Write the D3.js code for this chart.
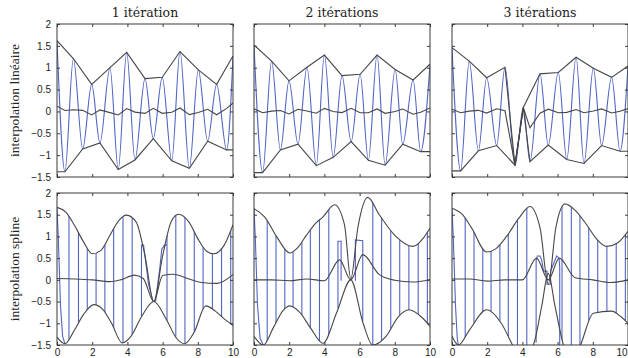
<!DOCTYPE html>
<html><head><meta charset="utf-8">
<script src="https://cdn.jsdelivr.net/npm/d3@7"></script>
<style>body{margin:0;background:#fff}svg{display:block}</style>
</head><body>
<svg id="c" width="628" height="358"></svg>
<script>
// ---------- labels ----------
const titles = ["1 itération", "2 itérations", "3 itérations"];
const rowLabels = ["interpolation linéaire", "interpolation spline"];
const xTicks = [0, 2, 4, 6, 8, 10];
const xTickLabels = ["0", "2", "4", "6", "8", "10"];
const yTicks = [-1.5, -1, -0.5, 0, 0.5, 1, 1.5, 2];
const yTickLabels = ["\u22121.5", "\u22121", "\u22120.5", "0", "0.5", "1", "1.5", "2"];

// ---------- row 1 : linear interpolation ----------
// iteration 1
const lin1UpX = [0, 0.93, 1.97, 3.01, 3.96, 5.0, 5.98, 6.99, 8.03, 9.07, 10];
const lin1UpY = [1.62, 1.21, 0.62, 1.0, 1.35, 0.75, 0.78, 1.37, 0.95, 0.62, 1.27];
const lin1LoX = [0, 0.45, 1.46, 2.44, 3.48, 4.43, 5.47, 6.52, 7.52, 8.56, 9.64, 10];
const lin1LoY = [-1.38, -1.38, -0.86, -0.72, -1.33, -1.11, -0.62, -1.13, -1.30, -0.68, -0.88, -0.88];
const lin1MeanX = [0, 0.45, 0.93, 1.46, 1.97, 2.44, 3.01, 3.48, 3.96, 4.43, 5.0, 5.47, 5.98, 6.52, 6.99, 7.52, 8.03, 8.56, 9.07, 9.64, 10];
const lin1MeanY = [0.12, 0.02, 0.04, 0.025, -0.08, 0.035, -0.027, -0.08, 0.066, -0.016, -0.045, 0.072, -0.044, -0.017, 0.08, -0.072, -0.023, 0.05, -0.077, 0.07, 0.195];
const lin1SigX = [0, 0.45, 0.93, 1.46, 1.97, 2.44, 3.01, 3.48, 3.96, 4.43, 5.0, 5.47, 5.98, 6.52, 6.99, 7.52, 8.03, 8.56, 9.07, 9.64, 10];
const lin1SigY = [1.62, -1.38, 1.21, -0.86, 0.62, -0.72, 1.0, -1.33, 1.35, -1.11, 0.75, -0.62, 0.78, -1.13, 1.37, -1.30, 0.95, -0.68, 0.62, -0.88, 1.27];

// iteration 2
const lin2UpX = [0, 1.0, 1.99, 3.01, 4.0, 5.0, 6.03, 6.99, 8.02, 9.04, 10];
const lin2UpY = [1.52, 1.15, 0.70, 1.01, 1.29, 0.82, 0.85, 1.29, 0.96, 0.72, 1.08];
const lin2LoX = [0, 0.49, 1.5, 2.5, 3.54, 4.5, 5.52, 6.5, 7.45, 8.45, 9.47, 10];
const lin2LoY = [-1.40, -1.40, -0.88, -0.75, -1.24, -1.05, -0.69, -1.12, -1.23, -0.75, -0.92, -0.92];
const lin2MeanX = [0, 0.49, 1.0, 1.5, 1.99, 2.5, 3.01, 3.54, 4.0, 4.5, 5.0, 5.52, 6.03, 6.5, 6.99, 7.45, 8.02, 8.45, 9.04, 9.47, 10];
const lin2MeanY = [0.06, -0.03, 0.007, 0.02, -0.058, 0.05, 0.01, -0.04, 0.07, 0.0, -0.027, 0.07, -0.03, -0.03, 0.056, -0.044, 0.0, 0.055, -0.064, -0.02, 0.08];
const lin2SigX = [0, 0.49, 1.0, 1.5, 1.99, 2.5, 3.01, 3.54, 4.0, 4.5, 5.0, 5.52, 6.03, 6.5, 6.99, 7.45, 8.02, 8.45, 9.04, 9.47, 10];
const lin2SigY = [1.52, -1.40, 1.15, -0.88, 0.70, -0.75, 1.01, -1.24, 1.29, -1.05, 0.82, -0.69, 0.85, -1.12, 1.29, -1.23, 0.96, -0.75, 0.72, -0.92, 1.08];

// iteration 3
const lin3UpX = [0, 0.98, 1.97, 3.01, 3.58, 4.05, 5.0, 6.04, 7.05, 8.03, 9.07, 10];
const lin3UpY = [1.46, 1.15, 0.77, 1.01, -1.23, 0.09, 0.86, 0.89, 1.24, 0.99, 0.78, 1.04];
const lin3LoX = [0, 0.49, 1.5, 2.54, 3.58, 4.05, 4.43, 5.47, 6.52, 7.5, 8.5, 9.55, 10];
const lin3LoY = [-1.36, -1.36, -0.9, -0.78, -1.23, 0.09, -1.15, -0.77, -1.1, -1.19, -0.78, -0.91, -0.91];
const lin3MeanX = [0, 0.49, 0.98, 1.5, 1.97, 2.54, 3.01, 3.58, 4.05, 4.43, 5.0, 5.47, 6.04, 6.52, 7.05, 7.5, 8.03, 8.5, 9.07, 9.55, 10];
const lin3MeanY = [0.05, -0.03, 0.007, 0.025, -0.038, 0.06, 0.014, -1.23, 0.09, -0.376, -0.041, 0.052, -0.03, -0.022, 0.045, -0.03, 0.009, 0.057, -0.035, 0.002, 0.065];
const lin3SigX = [0, 0.49, 0.98, 1.5, 1.97, 2.54, 3.01, 3.58, 4.05, 4.43, 5.0, 5.47, 6.04, 6.52, 7.05, 7.5, 8.03, 8.5, 9.07, 9.55, 10];
const lin3SigY = [1.46, -1.36, 1.15, -0.9, 0.77, -0.78, 1.01, -1.23, 0.09, -1.15, 0.86, -0.77, 0.89, -1.1, 1.24, -1.19, 0.99, -0.78, 0.78, -0.91, 1.04];

// ---------- row 2 : spline interpolation ----------
// iteration 1
const sp1UpX = [0, 0.5, 1.0, 1.5, 2.0, 2.5, 3.0, 3.5, 3.95, 4.5, 5.0, 5.5, 6.0, 6.5, 6.9, 7.5, 8.0, 8.5, 8.9, 9.5, 10];
const sp1UpY = [1.67, 1.56, 1.25, 0.88, 0.60, 0.68, 1.02, 1.36, 1.49, 1.33, 0.55, -0.5, 0.55, 1.35, 1.51, 1.33, 0.95, 0.66, 0.60, 0.80, 1.27];
const sp1LoX = [0, 0.45, 1.0, 1.5, 2.1, 2.6, 3.1, 3.7, 4.2, 4.8, 5.5, 6.2, 6.8, 7.25, 7.8, 8.45, 9.0, 9.5, 10];
const sp1LoY = [-1.32, -1.47, -1.15, -0.80, -0.57, -0.68, -1.0, -1.45, -1.3, -0.85, -0.5, -0.9, -1.35, -1.47, -1.2, -0.6, -0.72, -0.9, -1.05];
const sp1MeanX = [0, 1.0, 2.0, 3.0, 3.6, 4.4, 4.9, 5.5, 6.0, 6.6, 7.5, 8.2, 9.1, 10];
const sp1MeanY = [0.03, 0.02, 0.0, -0.04, 0.0, 0.11, 0.03, -0.5, 0.1, 0.13, 0.02, -0.06, -0.08, 0.12];
const sp1Trans = [0.68, 1.22, 1.72, 2.22, 2.72, 3.22, 3.75, 4.27, 6.25, 6.75, 7.27, 7.8, 8.3, 8.83, 9.35, 9.87];
const sp1Extra = [
  [[0, 1.67], [0.08, 0.9], [0.2, -0.6], [0.32, -1.3], [0.45, -1.47]],
  [[4.8, -0.85], [4.8, 0.8], [4.92, 0.8], [5.2, -0.1], [5.45, -0.5]],
  [[5.6, -0.5], [5.85, 0.3], [5.95, 0.7], [6.1, 0.8], [6.25, 0.8]]
];

// iteration 2
const sp2UpX = [0, 0.6, 1.28, 2.03, 2.5, 3.0, 3.5, 3.92, 4.58, 5.14, 5.5, 5.9, 6.46, 7.12, 8.06, 9.0, 10];
const sp2UpY = [1.64, 1.45, 1.0, 0.62, 0.75, 1.04, 1.3, 1.45, 1.73, 1.27, 0.02, 1.2, 1.9, 1.5, 1.0, 0.77, 1.19];
const sp2LoX = [0, 0.53, 1.1, 1.66, 2.03, 2.6, 3.2, 3.92, 4.7, 5.5, 6.2, 6.74, 7.5, 8.2, 8.81, 9.5, 10];
const sp2LoY = [-1.3, -1.5, -1.1, -0.7, -0.6, -0.75, -1.1, -1.46, -0.75, 0.0, -1.0, -1.5, -1.3, -0.85, -0.69, -0.85, -1.07];
const sp2MeanX = [0, 1.0, 2.0, 3.0, 4.0, 4.86, 5.5, 6.18, 7.12, 8.0, 9.0, 10];
const sp2MeanY = [0.0, 0.0, -0.02, 0.02, -0.02, 0.46, 0.0, 0.58, 0.12, -0.01, -0.05, 0.01];
const sp2Trans = [0.75, 1.25, 1.75, 2.22, 2.72, 3.2, 3.72, 4.25, 6.75, 7.25, 7.77, 8.28, 8.8, 9.33, 9.85];
const sp2Extra = [
  [[0, 1.64], [0.08, 0.9], [0.2, -0.6], [0.35, -1.35], [0.53, -1.5]],
  [[4.77, -0.65], [4.77, 0.89], [4.95, 0.89], [4.95, -0.02]],
  [[5.76, -0.02], [5.76, 0.92], [6.18, 0.9], [6.18, -0.95]]
];

// iteration 3
const sp3UpX = [0, 0.6, 1.12, 1.97, 2.5, 3.1, 3.8, 4.43, 5.0, 5.47, 5.9, 6.42, 7.0, 7.65, 8.2, 8.79, 9.4, 10];
const sp3UpY = [1.65, 1.5, 1.19, 0.64, 0.72, 1.0, 1.42, 1.69, 1.2, -0.1, 1.2, 1.75, 1.6, 1.27, 0.95, 0.77, 0.85, 1.12];
const sp3LoX = [0, 0.36, 1.0, 1.97, 2.8, 3.5, 4.0, 4.7, 5.1, 5.47, 5.85, 6.33, 6.8, 7.3, 8.03, 9.07, 9.6, 10];
const sp3LoY = [-1.3, -1.5, -1.15, -0.69, -1.0, -1.55, -1.9, -1.4, -0.6, 0.15, -0.6, -1.5, -1.9, -1.5, -0.77, -0.72, -0.85, -1.0];
const sp3MeanX = [0, 1.0, 2.0, 3.0, 4.0, 4.8, 5.47, 6.1, 7.0, 8.0, 9.0, 10];
const sp3MeanY = [0.02, 0.02, -0.03, 0.0, 0.0, 0.5, 0.0, 0.5, 0.05, 0.0, -0.06, 0.0];
const sp3Trans = [0.75, 1.25, 1.75, 2.22, 2.72, 3.2, 3.72, 4.25, 6.25, 6.78, 7.27, 7.77, 8.28, 8.8, 9.33, 9.85];
const sp3Extra = [
  [[0, 1.65], [0.08, 0.9], [0.2, -0.6], [0.3, -1.35], [0.36, -1.5]],
  [[4.78, -1.45], [4.78, 0.45], [4.85, 0.55], [5.0, 0.55], [5.1, 0.45], [5.2, 0.2], [5.4, 0.2], [5.4, -0.1],
   [5.6, -0.1], [5.6, 0.2], [5.85, 0.45], [5.95, 0.55], [6.08, 0.5], [6.12, 0.3], [6.12, -1.5]]
];

// ---------- assemble ----------
const zip = (xs, ys) => xs.map((v, i) => [v, ys[i]]);
const linPanels = [
  {up: zip(lin1UpX, lin1UpY), lo: zip(lin1LoX, lin1LoY), mean: zip(lin1MeanX, lin1MeanY), sig: zip(lin1SigX, lin1SigY)},
  {up: zip(lin2UpX, lin2UpY), lo: zip(lin2LoX, lin2LoY), mean: zip(lin2MeanX, lin2MeanY), sig: zip(lin2SigX, lin2SigY)},
  {up: zip(lin3UpX, lin3UpY), lo: zip(lin3LoX, lin3LoY), mean: zip(lin3MeanX, lin3MeanY), sig: zip(lin3SigX, lin3SigY)}
];
const spPanels = [
  {up: zip(sp1UpX, sp1UpY), lo: zip(sp1LoX, sp1LoY), mean: zip(sp1MeanX, sp1MeanY), trans: sp1Trans, extra: sp1Extra},
  {up: zip(sp2UpX, sp2UpY), lo: zip(sp2LoX, sp2LoY), mean: zip(sp2MeanX, sp2MeanY), trans: sp2Trans, extra: sp2Extra},
  {up: zip(sp3UpX, sp3UpY), lo: zip(sp3LoX, sp3LoY), mean: zip(sp3MeanX, sp3MeanY), trans: sp3Trans, extra: sp3Extra}
];

const BLUE = "#5264c4", DARK = "#464646", FRAME = "#3a3a3a";
const colX = [57, 254, 452], PW = 176;
const rowTop = [24, 193], PH = [153, 152];
const svg = d3.select("#c");
let clipId = 0;

function makePanel(row, col) {
  const x = d3.scaleLinear().domain([0, 10]).range([colX[col], colX[col] + PW]);
  const y = d3.scaleLinear().domain([-1.5, 2]).range([rowTop[row] + PH[row], rowTop[row]]);
  const g = svg.append("g");
  const cid = "clip" + (clipId++);
  svg.append("clipPath").attr("id", cid).append("rect")
    .attr("x", x(0)).attr("y", y(2)).attr("width", x(10) - x(0)).attr("height", y(-1.5) - y(2));
  const plot = g.append("g").attr("clip-path", `url(#${cid})`);
  return {x, y, g, plot};
}

function axes(p, row, col) {
  const {x, y, g} = p;
  const l = g.append("g").attr("transform", `translate(${x(0)},0)`)
    .call(d3.axisLeft(y).tickValues(yTicks).tickSize(-3).tickPadding(6)
      .tickFormat((d, i) => col === 0 ? yTickLabels[i] : ""));
  const r = g.append("g").attr("transform", `translate(${x(10)},0)`)
    .call(d3.axisRight(y).tickValues(yTicks).tickSize(-3).tickFormat(""));
  const t = g.append("g").attr("transform", `translate(0,${y(2)})`)
    .call(d3.axisTop(x).tickValues(xTicks).tickSize(-3).tickFormat(""));
  const b = g.append("g").attr("transform", `translate(0,${y(-1.5)})`)
    .call(d3.axisBottom(x).tickValues(xTicks).tickSize(-3).tickPadding(4)
      .tickFormat((d, i) => row === 1 ? xTickLabels[i] : ""));
  [l, r, t, b].forEach(a => {
    a.select(".domain").remove();
    a.selectAll("line").attr("stroke", FRAME);
    a.selectAll("text").attr("font-family", "'Liberation Sans', Arial, sans-serif")
      .attr("font-size", 10).attr("fill", "#222");
  });
  if (row === 1 && col === 2) {
    b.selectAll("text").filter(v => v === 10).attr("text-anchor", "end").attr("dx", -1);
  }
  g.append("rect").attr("x", x(0)).attr("y", y(2)).attr("width", x(10) - x(0)).attr("height", y(-1.5) - y(2))
    .attr("fill", "none").attr("stroke", FRAME).attr("stroke-width", 1);
}

// top row
linPanels.forEach((d, col) => {
  const p = makePanel(0, col);
  const line = d3.line().x(v => p.x(v[0])).y(v => p.y(v[1]));
  const sigLine = d3.line().x(v => p.x(v[0])).y(v => p.y(v[1])).curve(d3.curveMonotoneX);
  p.plot.append("path").attr("d", sigLine(d.sig)).attr("fill", "none").attr("stroke", BLUE).attr("stroke-width", 1.1);
  [d.up, d.lo, d.mean].forEach(s => p.plot.append("path").attr("d", line(s))
    .attr("fill", "none").attr("stroke", DARK).attr("stroke-width", 1.1));
  axes(p, 0, col);
  svg.append("text").attr("x", p.x(5)).attr("y", 17).attr("text-anchor", "middle")
    .attr("font-family", "'DejaVu Serif', serif").attr("font-size", 12.5).attr("fill", "#222")
    .text(titles[col]);
});

// bottom row
spPanels.forEach((d, col) => {
  const p = makePanel(1, col);
  const curve = d3.line().x(v => p.x(v[0])).y(v => p.y(v[1])).curve(d3.curveMonotoneX);
  const lin = d3.line().x(v => p.x(v[0])).y(v => p.y(v[1]));
  // clip: below upper envelope, above lower envelope
  const cu = "clip" + (clipId++), cl = "clip" + (clipId++);
  const yT = p.y(3), yB = p.y(-3);
  svg.append("clipPath").attr("id", cu).append("path")
    .attr("d", curve(d.up) + `L${p.x(10)},${yB}L${p.x(0)},${yB}Z`);
  svg.append("clipPath").attr("id", cl).append("path")
    .attr("d", curve(d.lo) + `L${p.x(10)},${yT}L${p.x(0)},${yT}Z`);
  const band = p.plot.append("g").attr("clip-path", `url(#${cu})`).append("g").attr("clip-path", `url(#${cl})`);
  band.selectAll("line").data(d.trans).join("line")
    .attr("x1", t => p.x(t)).attr("x2", t => p.x(t)).attr("y1", yT).attr("y2", yB)
    .attr("stroke", BLUE).attr("stroke-width", 1.1);
  d.extra.forEach(s => p.plot.append("path").attr("d", lin(s)).attr("fill", "none")
    .attr("stroke", BLUE).attr("stroke-width", 1.1));
  [d.up, d.lo, d.mean].forEach(s => p.plot.append("path").attr("d", curve(s))
    .attr("fill", "none").attr("stroke", DARK).attr("stroke-width", 1.1));
  axes(p, 1, col);
});

// row labels
rowLabels.forEach((t, row) => {
  const cy = rowTop[row] + PH[row] / 2;
  svg.append("text").attr("transform", `translate(19,${cy}) rotate(-90)`).attr("text-anchor", "middle")
    .attr("font-family", "'Liberation Serif', serif").attr("font-size", 13.5).attr("fill", "#222")
    .text(t);
});
</script>
</body></html>
